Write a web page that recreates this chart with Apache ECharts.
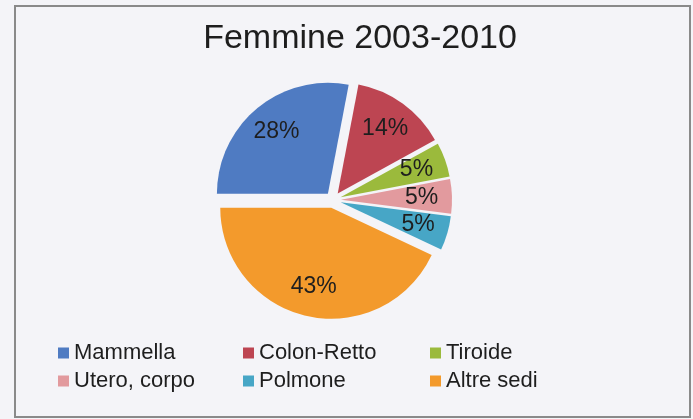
<!DOCTYPE html>
<html>
<head>
<meta charset="utf-8">
<script src="https://cdn.jsdelivr.net/npm/echarts@6/dist/echarts.min.js"></script>
<style>
html,body{margin:0;padding:0;background:#f4f4f8;}
#chart{width:693px;height:419px;}
</style>
</head>
<body>
<div id="chart"></div>
<script>
const titleText = 'Femmine 2003-2010';
const categories = ['Mammella', 'Colon-Retto', 'Tiroide', 'Utero, corpo', 'Polmone', 'Altre sedi'];
const values = [28, 14, 5, 5, 5, 43];
const colors = ['#4f7bc2', '#bd4552', '#9bba3c', '#e29a9e', '#47a6c6', '#f39a2c'];
const legendCols = [
  ['Mammella', 'Utero, corpo'],
  ['Colon-Retto', 'Polmone'],
  ['Tiroide', 'Altre sedi']
];

const CX = 333, CY = 200, R = 111, OFF = 8;
const FONT = '"Liberation Sans", Arial, sans-serif';

const chart = echarts.init(document.getElementById('chart'), null, {renderer: 'canvas'});
const legendLeft = [58, 243, 430];
const pieData = categories.map((c, i) => ({name: c, value: values[i], selected: true}));
const common = {
  type: 'pie',
  center: [CX, CY],
  startAngle: 180,
  clockwise: true,
  selectedMode: 'multiple',
  selectedOffset: OFF,
  emphasis: {disabled: true},
  labelLine: {show: false},
  data: pieData
};
const option = {
  backgroundColor: '#f4f4f8',
  animation: false,
  title: {
    text: titleText,
    left: 360, top: 22, textAlign: 'center', padding: 0,
    textStyle: {fontFamily: FONT, fontSize: 34, fontWeight: 'normal', color: '#1e1e1e'}
  },
  legend: legendCols.map((col, i) => ({
    data: col,
    orient: 'vertical',
    left: legendLeft[i], top: 342,
    padding: 0,
    itemGap: 6,
    itemWidth: 11, itemHeight: 11,
    icon: 'rect',
    selectedMode: false,
    textStyle: {fontFamily: FONT, fontSize: 22, color: '#1e1e1e'}
  })),
  graphic: [{
    type: 'rect',
    shape: {x: 15, y: 6, width: 675, height: 411},
    style: {fill: 'none', stroke: '#8a8a8a', lineWidth: 2},
    silent: true
  }],
  color: colors,
  series: [
    Object.assign({}, common, {
      radius: R,
      itemStyle: {borderWidth: 0},
      label: {show: false}
    }),
    Object.assign({}, common, {
      radius: [R * 0.42, R * 0.98],
      silent: true,
      itemStyle: {color: 'rgba(0,0,0,0)', borderWidth: 0},
      label: {
        show: true,
        position: 'inside',
        formatter: p => p.value + '%',
        fontFamily: FONT,
        fontSize: 23,
        color: '#1e1e1e'
      }
    })
  ]
};
chart.setOption(option);
</script>
</body>
</html>
